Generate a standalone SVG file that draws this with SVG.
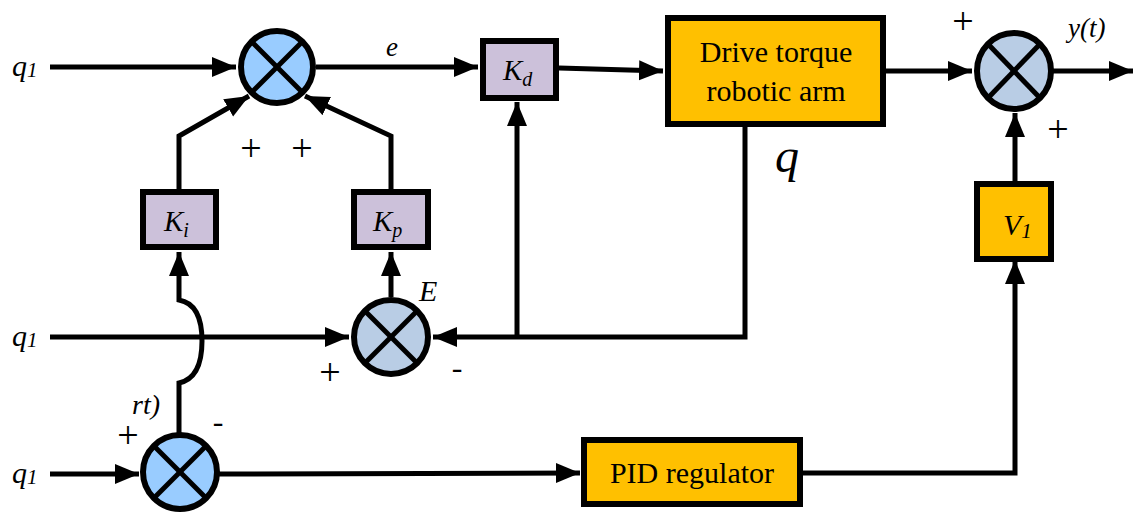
<svg xmlns="http://www.w3.org/2000/svg" width="1135" height="513" viewBox="0 0 1135 513">
<defs>
<marker id="ah" markerUnits="userSpaceOnUse" markerWidth="26" markerHeight="22" refX="24" refY="10" orient="auto">
<path d="M0,0 L24,10 L0,20 z" fill="#000"/>
</marker>
<style>
.ln{fill:none;stroke:#000;stroke-width:5;stroke-linecap:butt;stroke-linejoin:miter}
.box{stroke:#000;stroke-width:6}
.pur{fill:#CCC1DA}
.org{fill:#FFC000}
.sj{stroke:#000;stroke-width:6}
.x{stroke:#000;stroke-width:5}
text{font-family:"Times New Roman","Liberation Serif","Noto Serif","DejaVu Serif",serif}
</style>
</defs>
<rect width="1135" height="513" fill="#fff"/>

<g id="connectors">
<path class="ln" d="M50,67 L236,67" marker-end="url(#ah)"/>
<path class="ln" d="M316,67 L478,67" marker-end="url(#ah)"/>
<path class="ln" d="M559,68 L663,71" marker-end="url(#ah)"/>
<path class="ln" d="M886,71 L972,71" marker-end="url(#ah)"/>
<path class="ln" d="M1053,71 L1133,71" marker-end="url(#ah)"/>
<path class="ln" d="M1015,181 L1015,113" marker-end="url(#ah)"/>
<path class="ln" d="M803,473 L1015,473 L1015,260" marker-end="url(#ah)"/>
<path class="ln" d="M219,474 L580,473" marker-end="url(#ah)"/>
<path class="ln" d="M50,474 L139,474" marker-end="url(#ah)"/>
<path class="ln" d="M50,337 L349,337" marker-end="url(#ah)"/>
<path class="ln" d="M745,127 L745,337 L433,337" marker-end="url(#ah)"/>
<path class="ln" d="M517,337 L517,102" marker-end="url(#ah)"/>
<path class="ln" d="M391,297 L391,252" marker-end="url(#ah)"/>
<path class="ln" d="M179,433 L179,383 Q202,378 202,341 Q202,304 179,300 L179,252" marker-end="url(#ah)"/>
<path class="ln" d="M179,189 L179,136 L249,96" marker-end="url(#ah)"/>
<path class="ln" d="M391,189 L391,136 L305,96" marker-end="url(#ah)"/>
</g>

<g id="sum-top">
<circle class="sj" cx="277" cy="67" r="36" fill="#99CCFF"/>
<line class="x" x1="252" y1="42" x2="302" y2="92"/>
<line class="x" x1="302" y1="42" x2="252" y2="92"/>
</g>
<g id="sum-mid">
<circle class="sj" cx="391" cy="337" r="37" fill="#B9CDE5"/>
<line class="x" x1="365" y1="311" x2="417" y2="363"/>
<line class="x" x1="417" y1="311" x2="365" y2="363"/>
</g>
<g id="sum-bot">
<circle class="sj" cx="180" cy="472" r="37" fill="#99CCFF"/>
<line class="x" x1="154" y1="446" x2="206" y2="498"/>
<line class="x" x1="206" y1="446" x2="154" y2="498"/>
</g>
<g id="sum-right">
<ellipse class="sj" cx="1014" cy="71" rx="37" ry="38" fill="#B9CDE5"/>
<line class="x" x1="988" y1="44" x2="1040" y2="98"/>
<line class="x" x1="1040" y1="44" x2="988" y2="98"/>
</g>

<g fill="#000">
<g id="Kd">
<rect class="box pur" x="483" y="41" width="73" height="57"/>
<text x="503" y="80" font-size="29" font-style="italic">K<tspan font-size="20" dy="6">d</tspan></text>
</g>
<g id="Ki">
<rect class="box pur" x="143" y="192" width="73" height="55"/>
<text x="164" y="231" font-size="29" font-style="italic">K<tspan font-size="20" dy="6">i</tspan></text>
</g>
<g id="Kp">
<rect class="box pur" x="354" y="192" width="74" height="55"/>
<text x="373" y="231" font-size="29" font-style="italic">K<tspan font-size="20" dy="6">p</tspan></text>
</g>
<g id="drive">
<rect class="box org" x="668" y="18" width="215" height="106"/>
<text x="776" y="62" font-size="30" text-anchor="middle">Drive torque</text>
<text x="776" y="101" font-size="30" text-anchor="middle">robotic arm</text>
</g>
<g id="V1">
<rect class="box org" x="977" y="184" width="74" height="75"/>
<text x="1003" y="235" font-size="30" font-style="italic">V<tspan font-size="21" dy="3">1</tspan></text>
</g>
<g id="PID">
<rect class="box org" x="584" y="440" width="216" height="64"/>
<text x="692" y="483" font-size="30" text-anchor="middle">PID regulator</text>
</g>

<g id="labels">
<text x="12" y="76" font-size="30" font-style="italic">q<tspan font-size="21" dy="1">1</tspan></text>
<text x="12" y="346" font-size="30" font-style="italic">q<tspan font-size="21" dy="1">1</tspan></text>
<text x="12" y="483" font-size="30" font-style="italic">q<tspan font-size="21" dy="1">1</tspan></text>
<text x="386" y="56" font-size="27" font-style="italic">e</text>
<text x="251" y="161" font-size="38" text-anchor="middle">+</text>
<text x="302" y="161" font-size="38" text-anchor="middle">+</text>
<text x="775" y="172" font-size="48" font-style="italic">q</text>
<text x="963" y="34" font-size="38" text-anchor="middle">+</text>
<text x="1058" y="142" font-size="38" text-anchor="middle">+</text>
<text x="1068" y="37" font-size="27" font-style="italic">y(t)</text>
<text x="419" y="301" font-size="30" font-style="italic">E</text>
<text x="330" y="385" font-size="38" text-anchor="middle">+</text>
<text x="457" y="378" font-size="32" text-anchor="middle">-</text>
<text x="132" y="414" font-size="28" font-style="italic">rt)</text>
<text x="128" y="448" font-size="38" text-anchor="middle">+</text>
<text x="218" y="432" font-size="32" text-anchor="middle">-</text>
</g>
</g>
</svg>
